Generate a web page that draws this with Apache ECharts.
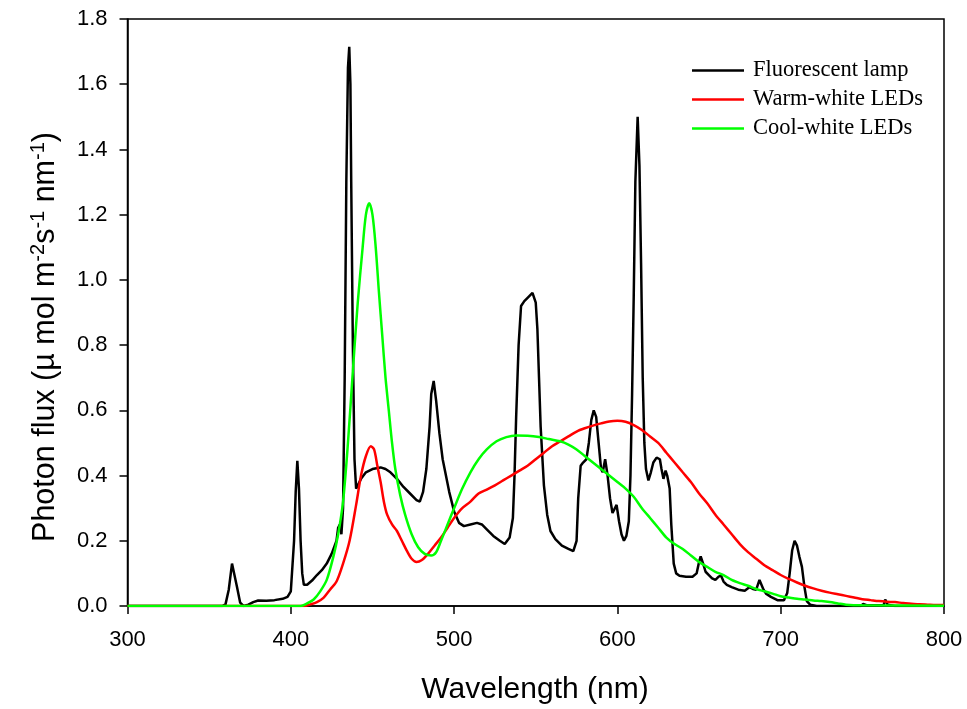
<!DOCTYPE html>
<html>
<head>
<meta charset="utf-8">
<title>Photon flux spectra</title>
<script src="https://cdn.jsdelivr.net/npm/echarts@6/dist/echarts.min.js"></script>
<style>
  html, body { margin: 0; padding: 0; background: #fff; }
  #chart { width: 967px; height: 709px; }
</style>
</head>
<body>
<div id="chart"></div>
<script>
// series names
const seriesNames = ['Fluorescent lamp', 'Warm-white LEDs', 'Cool-white LEDs']

// fluorescent lamp (black), wavelength / value
const fluoWl = [300, 358, 360, 362, 364, 365, 367, 369, 371, 374, 377, 380, 385, 390, 395, 398, 400, 402, 403, 404, 405, 406, 407, 408, 410, 413, 416, 419, 422, 425, 428, 429, 430, 431, 432, 433, 434, 435, 435.8, 436.5, 437, 438, 439, 440, 441, 443, 446, 450, 455, 458, 461, 465, 469, 473, 477, 479, 481, 483, 485, 486, 487.5, 489, 491, 493, 495, 497, 500, 503, 506, 510, 514, 517, 520, 524, 528, 531, 534, 536, 537, 538, 539.5, 541, 543, 545, 546, 548, 549, 550, 551, 552, 553, 555, 557, 559, 562, 566, 570, 573, 575, 576, 577.5, 579, 581, 582.5, 584, 585.5, 587, 588.5, 590, 591, 592.5, 594, 595.5, 597, 598.5, 599.5, 601, 602.5, 604, 605.5, 607, 608, 609, 610, 611, 612.4, 613.5, 614.5, 615.5, 616.5, 617.5, 619, 620.5, 622, 624, 626, 627, 628.2, 629.5, 630.5, 632, 633, 634.5, 636, 638, 642, 646, 648.5, 650, 651, 652.5, 654, 656, 658, 660, 662, 663.5, 665, 667, 670, 674, 678, 681, 683, 685, 687, 688, 689.5, 691, 694, 698, 702, 704, 705.5, 707, 708.5, 710, 711.5, 713, 714.5, 716, 718, 722, 749, 750.5, 751.5, 753, 763, 764, 765.5, 770, 800]
const fluoVal = [0, 0, 0.005, 0.05, 0.13, 0.13, 0.06, 0.01, 0, 0.004, 0.012, 0.017, 0.016, 0.018, 0.022, 0.028, 0.045, 0.2, 0.35, 0.445, 0.36, 0.2, 0.1, 0.065, 0.065, 0.078, 0.095, 0.11, 0.13, 0.16, 0.2, 0.24, 0.25, 0.22, 0.3, 0.7, 1.3, 1.65, 1.715, 1.6, 1.3, 0.8, 0.45, 0.36, 0.37, 0.39, 0.41, 0.42, 0.425, 0.42, 0.41, 0.39, 0.365, 0.345, 0.325, 0.32, 0.35, 0.42, 0.55, 0.65, 0.69, 0.63, 0.53, 0.45, 0.4, 0.35, 0.29, 0.255, 0.245, 0.25, 0.255, 0.25, 0.235, 0.215, 0.2, 0.19, 0.21, 0.27, 0.4, 0.58, 0.8, 0.92, 0.935, 0.945, 0.94, 0.96, 0.965, 0.93, 0.85, 0.7, 0.55, 0.37, 0.28, 0.23, 0.205, 0.185, 0.175, 0.168, 0.2, 0.33, 0.43, 0.44, 0.45, 0.5, 0.57, 0.6, 0.58, 0.5, 0.42, 0.41, 0.45, 0.4, 0.33, 0.285, 0.3, 0.31, 0.26, 0.22, 0.2, 0.215, 0.26, 0.4, 0.65, 0.95, 1.3, 1.5, 1.35, 1.05, 0.7, 0.5, 0.42, 0.385, 0.41, 0.44, 0.455, 0.45, 0.42, 0.39, 0.415, 0.4, 0.36, 0.25, 0.13, 0.1, 0.093, 0.09, 0.09, 0.1, 0.135, 0.152, 0.13, 0.105, 0.095, 0.085, 0.08, 0.09, 0.093, 0.075, 0.065, 0.058, 0.05, 0.047, 0.058, 0.052, 0.05, 0.08, 0.075, 0.05, 0.038, 0.028, 0.018, 0.018, 0.04, 0.1, 0.17, 0.2, 0.185, 0.15, 0.12, 0.06, 0.015, 0.004, 0, 0, 0.006, 0.012, 0.002, 0.002, 0.02, 0.004, 0, 0]

// warm-white LEDs (red)
const warmWl = [300, 408, 412, 416, 420, 424, 428, 432, 436, 440, 443, 446, 449, 451, 453, 455, 457, 459, 462, 465, 468, 471, 474, 477, 480, 484, 488, 492, 496, 500, 505, 510, 515, 520, 525, 530, 535, 540, 545, 550, 555, 560, 565, 570, 575, 580, 585, 590, 595, 600, 605, 610, 615, 620, 625, 630, 635, 640, 645, 650, 655, 660, 665, 670, 675, 680, 685, 690, 695, 700, 705, 710, 715, 720, 725, 730, 735, 740, 745, 750, 755, 760, 765, 770, 775, 780, 785, 790, 795, 800]
const warmVal = [0, 0, 0.005, 0.012, 0.025, 0.05, 0.075, 0.13, 0.2, 0.31, 0.4, 0.46, 0.49, 0.48, 0.43, 0.38, 0.32, 0.28, 0.25, 0.23, 0.2, 0.17, 0.145, 0.135, 0.14, 0.16, 0.185, 0.21, 0.24, 0.27, 0.3, 0.32, 0.345, 0.357, 0.37, 0.385, 0.4, 0.415, 0.43, 0.45, 0.47, 0.49, 0.505, 0.52, 0.535, 0.545, 0.553, 0.56, 0.566, 0.568, 0.565, 0.555, 0.54, 0.52, 0.5, 0.47, 0.44, 0.41, 0.38, 0.345, 0.315, 0.28, 0.25, 0.22, 0.19, 0.165, 0.145, 0.125, 0.11, 0.095, 0.083, 0.072, 0.062, 0.054, 0.047, 0.041, 0.036, 0.031, 0.026, 0.021, 0.018, 0.015, 0.013, 0.012, 0.009, 0.007, 0.005, 0.004, 0.003, 0.003]

// cool-white LEDs (green)
const coolWl = [300, 406, 410, 414, 418, 422, 426, 429, 432, 435, 438, 441, 444, 446, 448, 450, 452, 454, 456, 458, 460, 462, 464, 467, 470, 474, 478, 482, 486, 489, 492, 496, 500, 505, 510, 515, 520, 526, 532, 538, 545, 552, 558, 565, 570, 575, 580, 585, 590, 595, 600, 605, 610, 615, 620, 625, 630, 635, 640, 645, 650, 655, 660, 665, 670, 675, 680, 685, 690, 695, 700, 705, 710, 715, 720, 725, 730, 735, 740, 750, 800]
const coolVal = [0, 0, 0.008, 0.02, 0.045, 0.08, 0.15, 0.22, 0.32, 0.5, 0.72, 0.93, 1.1, 1.2, 1.235, 1.2, 1.1, 0.96, 0.83, 0.7, 0.6, 0.5, 0.42, 0.34, 0.28, 0.22, 0.18, 0.16, 0.155, 0.165, 0.2, 0.25, 0.3, 0.36, 0.41, 0.45, 0.48, 0.505, 0.518, 0.523, 0.522, 0.518, 0.512, 0.505, 0.495, 0.48, 0.46, 0.44, 0.42, 0.4, 0.38, 0.36, 0.335, 0.3, 0.27, 0.24, 0.21, 0.19, 0.175, 0.155, 0.135, 0.12, 0.105, 0.095, 0.08, 0.07, 0.062, 0.052, 0.045, 0.038, 0.03, 0.026, 0.022, 0.02, 0.017, 0.015, 0.012, 0.008, 0.004, 0.002, 0.001]

const xTicks = [300, 400, 500, 600, 700, 800]
const yTicks = [0, 0.2, 0.4, 0.6, 0.8, 1.0, 1.2, 1.4, 1.6, 1.8]

function pairs(xs, ys) {
  return xs.map((x, i) => [x, ys[i]])
}

const chart = echarts.init(document.getElementById('chart'))

const sansFont = 'Liberation Sans, Arial, sans-serif'
const serifFont = 'Liberation Serif, Times New Roman, serif'

const lineDefaults = {
  type: 'line',
  symbol: 'none',
  showSymbol: false,
  animation: false
}

chart.setOption({
  backgroundColor: '#fff',
  animation: false,
  grid: {
    left: 127.5,
    right: 23,
    top: 19,
    bottom: 103,
    show: true,
    borderColor: '#000',
    borderWidth: 1.5,
    containLabel: false
  },
  legend: {
    orient: 'vertical',
    left: 687,
    top: 54,
    icon: 'rect',
    itemWidth: 52,
    itemHeight: 2.5,
    itemGap: 6,
    data: seriesNames,
    textStyle: {
      fontFamily: serifFont,
      fontSize: 22.5,
      color: '#000',
      lineHeight: 22,
      padding: [0, 0, 0, 4]
    }
  },
  xAxis: {
    type: 'value',
    min: xTicks[0],
    max: xTicks[xTicks.length - 1],
    interval: 100,
    splitLine: { show: false },
    axisLine: { lineStyle: { color: '#000', width: 1.5 } },
    axisTick: { show: true, inside: false, length: 8, lineStyle: { color: '#000', width: 1.5 } },
    axisLabel: {
      color: '#000',
      fontFamily: sansFont,
      fontSize: 22,
      margin: 23
    }
  },
  yAxis: {
    type: 'value',
    min: yTicks[0],
    max: yTicks[yTicks.length - 1],
    interval: 0.2,
    splitLine: { show: false },
    axisLine: { show: true, lineStyle: { color: '#000', width: 1.5 } },
    axisTick: { show: true, inside: false, length: 8, lineStyle: { color: '#000', width: 1.5 } },
    axisLabel: {
      color: '#000',
      fontFamily: sansFont,
      fontSize: 22,
      margin: 20,
      formatter: function(v) {
        return v.toFixed(1)
      }
    }
  },
  graphic: [
    {
      type: 'text',
      x: 535,
      y: 690,
      style: {
        text: 'Wavelength (nm)',
        fontFamily: sansFont,
        fontSize: 30,
        fill: '#000',
        align: 'center',
        verticalAlign: 'middle'
      }
    },
    {
      type: 'text',
      x: 46,
      y: 337,
      rotation: Math.PI / 2,
      style: {
        text: '{a|Photon flux (µ mol m}{s|-2}{a|s}{s|-1}{a| nm}{s|-1}{a|)}',
        align: 'center',
        verticalAlign: 'middle',
        fill: '#000',
        rich: {
          a: { fontFamily: sansFont, fontSize: 30.5, fill: '#000', lineHeight: 36 },
          s: { fontFamily: sansFont, fontSize: 20, fill: '#000', lineHeight: 36, verticalAlign: 'top' }
        }
      }
    }
  ],
  series: [
    Object.assign({}, lineDefaults, {
      name: seriesNames[0],
      data: pairs(fluoWl, fluoVal),
      lineStyle: { color: '#000000', width: 2.5 },
      itemStyle: { color: '#000000' }
    }),
    Object.assign({}, lineDefaults, {
      name: seriesNames[1],
      smooth: 0.3,
      data: pairs(warmWl, warmVal),
      lineStyle: { color: '#ff0000', width: 2.5 },
      itemStyle: { color: '#ff0000' }
    }),
    Object.assign({}, lineDefaults, {
      name: seriesNames[2],
      smooth: 0.3,
      data: pairs(coolWl, coolVal),
      lineStyle: { color: '#00ff00', width: 2.5 },
      itemStyle: { color: '#00ff00' }
    })
  ]
})
</script>
</body>
</html>
